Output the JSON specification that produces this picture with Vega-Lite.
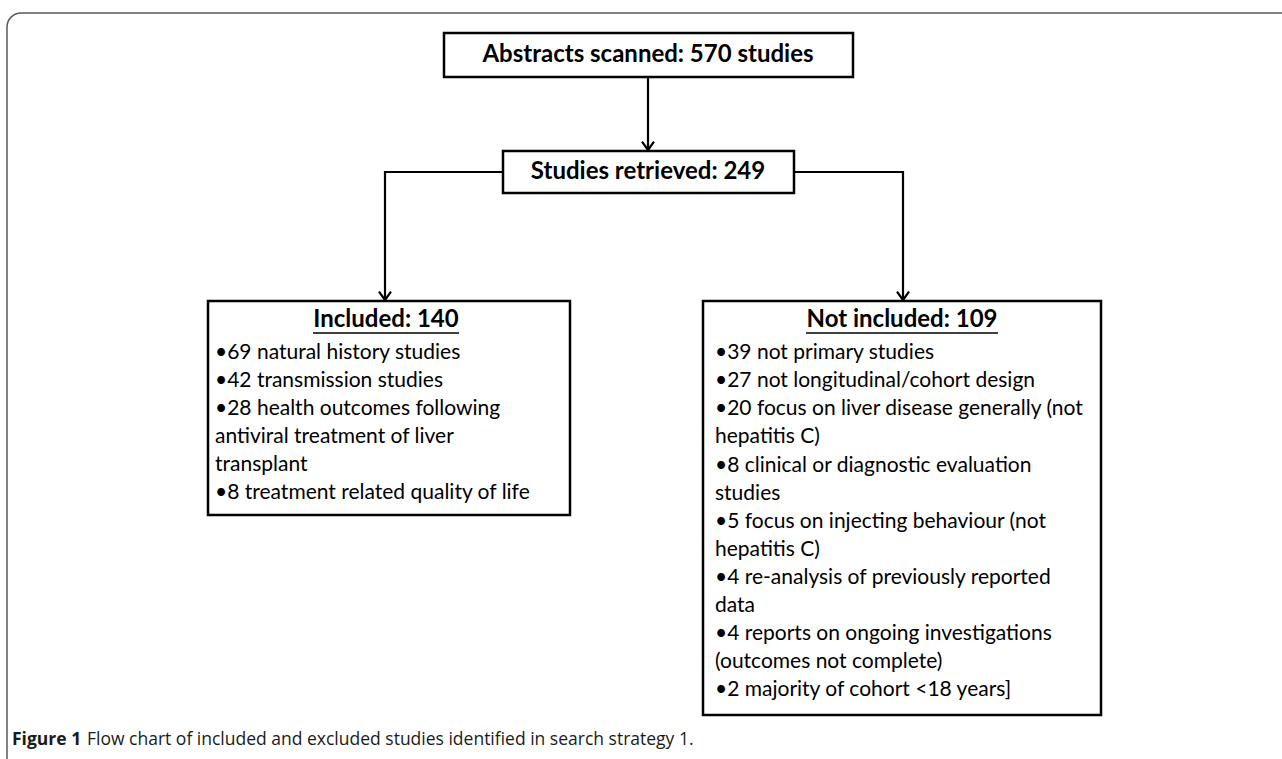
{
  "$schema": "https://vega.github.io/schema/vega-lite/v6.json",
  "width": 1282,
  "height": 759,
  "autosize": {"type": "none"},
  "padding": 0,
  "background": "white",
  "config": {"view": {"stroke": null}},
  "datasets": {
    "frame": [{"x1": 7, "x2": 1320, "y1": 13, "y2": 800}],
    "boxes": [
      {"box": "Abstracts", "x1": 444, "x2": 853, "y1": 33, "y2": 77},
      {"box": "Retrieved", "x1": 503, "x2": 794, "y1": 151, "y2": 193},
      {"box": "Included", "x1": 208, "x2": 570, "y1": 301, "y2": 515},
      {"box": "Not included", "x1": 703, "x2": 1101, "y1": 301, "y2": 715}
    ],
    "connectors": [
      {"seg": "a", "o": 1, "x": 648, "y": 77},
      {"seg": "a", "o": 2, "x": 648, "y": 150},
      {"seg": "b", "o": 1, "x": 503, "y": 172},
      {"seg": "b", "o": 2, "x": 385, "y": 172},
      {"seg": "b", "o": 3, "x": 385, "y": 300},
      {"seg": "c", "o": 1, "x": 794, "y": 172},
      {"seg": "c", "o": 2, "x": 903, "y": 172},
      {"seg": "c", "o": 3, "x": 903, "y": 300}
    ],
    "heads": [
      {"x": 648, "y": 150},
      {"x": 385, "y": 300},
      {"x": 903, "y": 300}
    ],
    "underlines": [
      {"seg": "inc", "o": 1, "x": 313, "y": 333},
      {"seg": "inc", "o": 2, "x": 459, "y": 333},
      {"seg": "exc", "o": 1, "x": 806, "y": 333},
      {"seg": "exc", "o": 2, "x": 998, "y": 333}
    ],
    "titles": [
      {"text": "Abstracts scanned: 570 studies", "x": 648, "y": 55},
      {"text": "Studies retrieved: 249", "x": 648, "y": 172},
      {"text": "Included: 140", "x": 386, "y": 320},
      {"text": "Not included: 109", "x": 902, "y": 320}
    ],
    "body": [
      {"text": "•69 natural history studies", "x": 215, "y": 353},
      {"text": "•42 transmission studies", "x": 215, "y": 381},
      {"text": "•28 health outcomes following", "x": 215, "y": 409},
      {"text": "antiviral treatment of liver", "x": 215, "y": 437},
      {"text": "transplant", "x": 215, "y": 465},
      {"text": "•8 treatment related quality of life", "x": 215, "y": 493},
      {"text": "•39 not primary studies", "x": 715, "y": 353},
      {"text": "•27 not longitudinal/cohort design", "x": 715, "y": 381},
      {"text": "•20 focus on liver disease generally (not", "x": 715, "y": 409},
      {"text": "hepatitis C)", "x": 715, "y": 437},
      {"text": "•8 clinical or diagnostic evaluation", "x": 715, "y": 466},
      {"text": "studies", "x": 715, "y": 494},
      {"text": "•5 focus on injecting behaviour (not", "x": 715, "y": 522},
      {"text": "hepatitis C)", "x": 715, "y": 550},
      {"text": "•4 re-analysis of previously reported", "x": 715, "y": 578},
      {"text": "data", "x": 715, "y": 606},
      {"text": "•4 reports on ongoing investigations", "x": 715, "y": 634},
      {"text": "(outcomes not complete)", "x": 715, "y": 662},
      {"text": "•2 majority of cohort <18 years]", "x": 715, "y": 690}
    ],
    "captionBold": [{"text": "Figure 1", "x": 12, "y": 740}],
    "captionRest": [{"text": "Flow chart of included and excluded studies identified in search strategy 1.", "x": 87, "y": 740}]
  },
  "layer": [
    {
      "data": {"name": "frame"},
      "mark": {"type": "rect", "fill": null, "stroke": "#5a5a5a", "strokeWidth": 1.5, "cornerRadiusTopLeft": 14},
      "encoding": {
        "x": {"field": "x1", "type": "quantitative", "scale": {"domain": [0, 1282], "nice": false, "zero": false}, "axis": null},
        "x2": {"field": "x2"},
        "y": {"field": "y1", "type": "quantitative", "scale": {"domain": [0, 759], "nice": false, "zero": false, "reverse": true}, "axis": null},
        "y2": {"field": "y2"}
      }
    },
    {
      "data": {"name": "connectors"},
      "mark": {"type": "line", "color": "black", "strokeWidth": 2.2, "strokeJoin": "miter", "strokeCap": "butt"},
      "encoding": {
        "x": {"field": "x", "type": "quantitative", "scale": {"domain": [0, 1282], "nice": false, "zero": false}, "axis": null},
        "y": {"field": "y", "type": "quantitative", "scale": {"domain": [0, 759], "nice": false, "zero": false, "reverse": true}, "axis": null},
        "detail": {"field": "seg"},
        "order": {"field": "o"}
      }
    },
    {
      "data": {"name": "heads"},
      "mark": {"type": "point", "shape": "M -1 -1.4 L 0 0 L 1 -1.4", "filled": false, "stroke": "black", "strokeWidth": 2.2, "size": 144, "opacity": 1},
      "encoding": {
        "x": {"field": "x", "type": "quantitative", "scale": {"domain": [0, 1282], "nice": false, "zero": false}, "axis": null},
        "y": {"field": "y", "type": "quantitative", "scale": {"domain": [0, 759], "nice": false, "zero": false, "reverse": true}, "axis": null}
      }
    },
    {
      "data": {"name": "boxes"},
      "mark": {"type": "rect", "fill": "white", "stroke": "black", "strokeWidth": 2.5},
      "encoding": {
        "x": {"field": "x1", "type": "quantitative", "scale": {"domain": [0, 1282], "nice": false, "zero": false}, "axis": null},
        "x2": {"field": "x2"},
        "y": {"field": "y1", "type": "quantitative", "scale": {"domain": [0, 759], "nice": false, "zero": false, "reverse": true}, "axis": null},
        "y2": {"field": "y2"}
      }
    },
    {
      "data": {"name": "underlines"},
      "mark": {"type": "line", "color": "black", "strokeWidth": 1.5},
      "encoding": {
        "x": {"field": "x", "type": "quantitative", "scale": {"domain": [0, 1282], "nice": false, "zero": false}, "axis": null},
        "y": {"field": "y", "type": "quantitative", "scale": {"domain": [0, 759], "nice": false, "zero": false, "reverse": true}, "axis": null},
        "detail": {"field": "seg"},
        "order": {"field": "o"}
      }
    },
    {
      "data": {"name": "titles"},
      "mark": {"type": "text", "font": "Lato", "fontSize": 24, "fontWeight": "bold", "align": "center", "baseline": "middle", "color": "black"},
      "encoding": {
        "x": {"field": "x", "type": "quantitative", "scale": {"domain": [0, 1282], "nice": false, "zero": false}, "axis": null},
        "y": {"field": "y", "type": "quantitative", "scale": {"domain": [0, 759], "nice": false, "zero": false, "reverse": true}, "axis": null},
        "text": {"field": "text"}
      }
    },
    {
      "data": {"name": "body"},
      "mark": {"type": "text", "font": "Lato", "fontSize": 21, "align": "left", "baseline": "middle", "color": "black"},
      "encoding": {
        "x": {"field": "x", "type": "quantitative", "scale": {"domain": [0, 1282], "nice": false, "zero": false}, "axis": null},
        "y": {"field": "y", "type": "quantitative", "scale": {"domain": [0, 759], "nice": false, "zero": false, "reverse": true}, "axis": null},
        "text": {"field": "text"}
      }
    },
    {
      "data": {"name": "captionBold"},
      "mark": {"type": "text", "font": "Open Sans", "fontSize": 17.5, "fontWeight": "bold", "align": "left", "baseline": "middle", "color": "#1a1a1a"},
      "encoding": {
        "x": {"field": "x", "type": "quantitative", "scale": {"domain": [0, 1282], "nice": false, "zero": false}, "axis": null},
        "y": {"field": "y", "type": "quantitative", "scale": {"domain": [0, 759], "nice": false, "zero": false, "reverse": true}, "axis": null},
        "text": {"field": "text"}
      }
    },
    {
      "data": {"name": "captionRest"},
      "mark": {"type": "text", "font": "Open Sans", "fontSize": 17.5, "align": "left", "baseline": "middle", "color": "#1a1a1a"},
      "encoding": {
        "x": {"field": "x", "type": "quantitative", "scale": {"domain": [0, 1282], "nice": false, "zero": false}, "axis": null},
        "y": {"field": "y", "type": "quantitative", "scale": {"domain": [0, 759], "nice": false, "zero": false, "reverse": true}, "axis": null},
        "text": {"field": "text"}
      }
    }
  ]
}
